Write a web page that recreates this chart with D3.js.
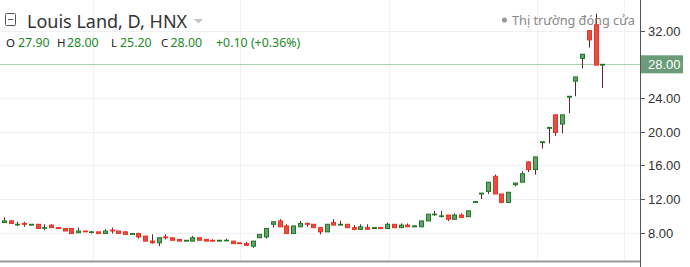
<!DOCTYPE html>
<html>
<head>
<meta charset="utf-8">
<script src="https://cdn.jsdelivr.net/npm/d3@7"></script>
<style>
  body { margin: 0; background: #fff; }
  svg { display: block; font-family: "Noto Sans", sans-serif; }
</style>
</head>
<body>
<div id="chart"></div>
<script>
// Daily candles, Louis Land (HNX)
const opens  = [9.2,9.4,9.0,9.1,8.9,9.0,8.6,8.9,8.6,8.5,8.5,8.0,8.2,8.1,8.1,7.9,8.3,8.2,8.1,7.8,
                7.9,7.6,7.0,6.8,7.5,7.4,7.2,7.0,7.0,7.4,7.2,7.1,7.0,7.1,7.0,6.8,6.7,6.4,7.4,7.5,
                9.0,9.4,8.8,7.9,8.7,9.1,9.0,8.6,8.1,9.2,8.9,9.0,8.6,8.4,8.6,8.5,8.6,8.5,9.0,8.6,
                8.9,8.7,8.7,9.4,10.2,10.0,10.1,9.6,10.1,9.9,11.6,12.6,12.9,14.7,12.6,11.6,13.7,14.0,16.4,15.5,
                18.7,20.4,22.0,20.9,24.1,26.0,28.7,32.0,32.7,27.9];
const highs  = [9.8,9.5,9.3,9.3,9.0,9.0,9.0,9.0,8.6,8.5,8.5,8.6,8.2,8.2,8.1,8.4,8.6,8.2,8.2,7.9,
                8.0,7.6,7.8,7.4,7.8,7.4,7.2,7.1,7.6,7.4,7.2,7.2,7.1,7.3,7.0,6.8,6.9,7.0,7.8,8.5,
                9.3,9.6,9.0,8.8,9.4,9.2,9.0,8.6,9.0,9.6,9.4,9.0,8.9,9.0,9.0,8.7,8.6,9.2,9.0,9.1,
                9.1,8.9,9.4,10.2,10.6,10.6,10.1,10.3,10.3,10.6,11.7,12.7,14.0,14.9,12.6,12.8,13.9,15.3,16.5,17.0,
                18.8,20.5,22.0,22.0,24.2,26.5,29.2,32.0,34.0,28.0];
const lows   = [9.2,9.1,8.8,8.7,8.9,8.5,8.3,8.6,8.5,8.2,7.9,8.0,8.1,7.9,7.9,7.9,7.9,7.9,7.8,7.8,
                7.3,7.0,6.7,6.4,7.2,7.1,7.0,7.0,7.0,7.1,7.0,6.9,7.0,7.1,6.7,6.7,6.5,6.2,7.4,7.3,
                8.6,8.7,7.9,7.9,8.7,8.7,8.6,7.8,8.1,8.9,8.9,8.6,8.3,8.4,8.4,8.5,8.5,8.5,8.6,8.6,
                8.7,8.7,8.7,9.4,10.0,9.8,9.4,9.6,9.8,9.9,11.6,12.0,12.6,12.6,11.5,11.6,13.5,14.0,15.2,14.9,
                18.0,18.6,19.5,19.8,22.2,24.2,27.5,30.0,27.9,25.2];
const closes = [9.4,9.1,9.0,9.0,9.0,8.5,8.6,8.6,8.5,8.2,7.9,8.2,8.1,8.1,7.9,8.2,8.2,7.9,7.8,7.9,
                7.5,7.0,6.8,7.4,7.4,7.1,7.0,7.1,7.4,7.1,7.0,7.0,7.1,7.1,6.7,6.7,6.5,7.0,7.8,8.5,
                9.3,8.7,7.9,8.8,9.1,9.0,8.6,8.1,9.0,8.9,9.0,8.6,8.4,8.7,8.4,8.6,8.5,9.0,8.6,8.9,
                8.7,8.8,9.4,10.2,10.2,10.0,9.6,10.1,9.8,10.6,11.7,12.7,14.0,12.6,11.6,12.8,13.9,15.0,15.5,17.0,
                18.8,20.5,19.9,22.0,24.2,26.5,29.2,30.9,27.9,28.0];

const priceTicks = [8, 12, 16, 20, 24, 28, 32];
const timeGrid = [13.2, 35.1, 57.2, 79.3, 92.3];   // month boundaries, in bar units
const lastPrice = 28.00;

const width = 690, height = 267;
const paneRight = 640, paneBottom = 261;

const candles = opens.map((o, i) => ({ i, o, h: highs[i], l: lows[i], c: closes[i] }));

const x = d3.scaleLinear().domain([0, candles.length - 1]).range([4, 602.3]);
const y = d3.scaleLinear().domain([8, 28]).range([232.7, 64.3]);

const svg = d3.select("#chart")
    .append("svg")
    .attr("width", width)
    .attr("height", height);

svg.append("defs").append("clipPath").attr("id", "pane")
    .append("rect").attr("x", 0).attr("y", 0).attr("width", paneRight).attr("height", paneBottom);

// Grid
const grid = svg.append("g").attr("clip-path", "url(#pane)");
grid.selectAll(".hg")
    .data(priceTicks)
    .enter()
    .append("line")
    .attr("x1", 0).attr("x2", paneRight)
    .attr("y1", d => Math.round(y(d)) + 0.5).attr("y2", d => Math.round(y(d)) + 0.5)
    .attr("stroke", "#eef2f6");
grid.selectAll(".vg")
    .data(timeGrid)
    .enter()
    .append("line")
    .attr("x1", d => Math.round(x(d)) + 0.5).attr("x2", d => Math.round(x(d)) + 0.5)
    .attr("y1", 0).attr("y2", paneBottom)
    .attr("stroke", "#eef2f6");

// Last price line
svg.append("line")
    .attr("x1", 0).attr("x2", paneRight)
    .attr("y1", Math.round(y(lastPrice)) + 0.5).attr("y2", Math.round(y(lastPrice)) + 0.5)
    .attr("stroke", "#a9d2b4");

// Candles
const up = d => d.c >= d.o;
const plot = svg.append("g").attr("clip-path", "url(#pane)");

const bars = plot.selectAll("g.candle")
    .data(candles)
    .enter()
    .append("g")
    .attr("class", "candle")
    .attr("transform", d => `translate(${Math.round(x(d.i))},0)`);

bars.append("line")
    .attr("x1", 0.5).attr("x2", 0.5)
    .attr("y1", d => y(d.h))
    .attr("y2", d => y(d.l))
    .attr("stroke", "#5e2626");

bars.append("rect")
    .attr("x", -1.5)
    .attr("width", 4)
    .attr("y", d => y(Math.max(d.o, d.c)))
    .attr("height", d => Math.max(0.6, Math.abs(y(d.o) - y(d.c))))
    .attr("fill", d => up(d) ? "#6b9f72" : "#d2574a")
    .attr("stroke", d => up(d) ? "#1d7a22" : "#ff2b1c")
    .attr("stroke-width", 1);

// Bottom border
svg.append("line")
    .attr("x1", 0).attr("x2", paneRight)
    .attr("y1", 261.5).attr("y2", 261.5)
    .attr("stroke", "#999")
    .attr("stroke-width", 2);

// Price axis
const axis = svg.append("g").attr("transform", `translate(${paneRight},0)`);
axis.append("line")
    .attr("x1", 0.5).attr("x2", 0.5)
    .attr("y1", 0).attr("y2", height)
    .attr("stroke", "#555");
axis.selectAll(".tick")
    .data(priceTicks)
    .enter()
    .append("line")
    .attr("x1", 0).attr("x2", 5)
    .attr("y1", d => Math.round(y(d)) + 0.5).attr("y2", d => Math.round(y(d)) + 0.5)
    .attr("stroke", "#555");
axis.selectAll(".lbl")
    .data(priceTicks.filter(d => d !== lastPrice))
    .enter()
    .append("text")
    .attr("x", 8)
    .attr("y", d => y(d) + 5)
    .attr("font-family", "Liberation Sans, Arial, sans-serif")
    .attr("font-size", "13px")
    .attr("fill", "#333")
    .text(d => d.toFixed(2));

// Last price label
axis.append("rect")
    .attr("x", 1).attr("y", y(lastPrice) - 9)
    .attr("width", 42).attr("height", 18)
    .attr("fill", "#6a9c79");
axis.append("text")
    .attr("x", 8)
    .attr("y", y(lastPrice) + 5)
    .attr("font-family", "Liberation Sans, Arial, sans-serif")
    .attr("font-size", "13px")
    .attr("fill", "#fff")
    .text(lastPrice.toFixed(2));

// Legend: symbol title
const legend = svg.append("g");
legend.append("rect")
    .attr("x", 5.5).attr("y", 13.5).attr("width", 10).attr("height", 12)
    .attr("fill", "none").attr("stroke", "#555").attr("rx", 1);
legend.append("line")
    .attr("x1", 8).attr("x2", 13).attr("y1", 19.5).attr("y2", 19.5)
    .attr("stroke", "#555");
legend.append("text")
    .attr("x", 27).attr("y", 28)
    .attr("font-size", "18px")
    .attr("fill", "#333")
    .text("Louis Land, D, HNX");
legend.append("path")
    .attr("d", "M194,19 L203,19 L198.5,23.5 Z")
    .attr("fill", "#c4c4c4");

// OHLC values
const last = candles[candles.length - 1];
const prev = candles[candles.length - 2];
const chg = last.c - prev.c;
const pct = chg / prev.c * 100;
const ohlcParts = [
    { t: "O", x: 6, k: true }, { t: last.o.toFixed(2), x: 18 },
    { t: "H", x: 57, k: true }, { t: last.h.toFixed(2), x: 67 },
    { t: "L", x: 111, k: true }, { t: last.l.toFixed(2), x: 120 },
    { t: "C", x: 161, k: true }, { t: last.c.toFixed(2), x: 170.5 },
    { t: `+${chg.toFixed(2)} (+${pct.toFixed(2)}%)`, x: 216 }
];
legend.selectAll(".ohlc")
    .data(ohlcParts)
    .enter()
    .append("text")
    .attr("x", d => d.x).attr("y", 47)
    .attr("font-size", d => d.k ? "11.5px" : "12.4px")
    .attr("fill", d => d.k ? "#222" : "#218a28")
    .text(d => d.t);

// Market status
legend.append("circle")
    .attr("cx", 504.5).attr("cy", 20).attr("r", 2.6)
    .attr("fill", "#999");
legend.append("text")
    .attr("x", 512).attr("y", 25)
    .attr("font-size", "12.7px")
    .attr("fill", "#888")
    .text("Thị trường đóng cửa");
</script>
</body>
</html>
